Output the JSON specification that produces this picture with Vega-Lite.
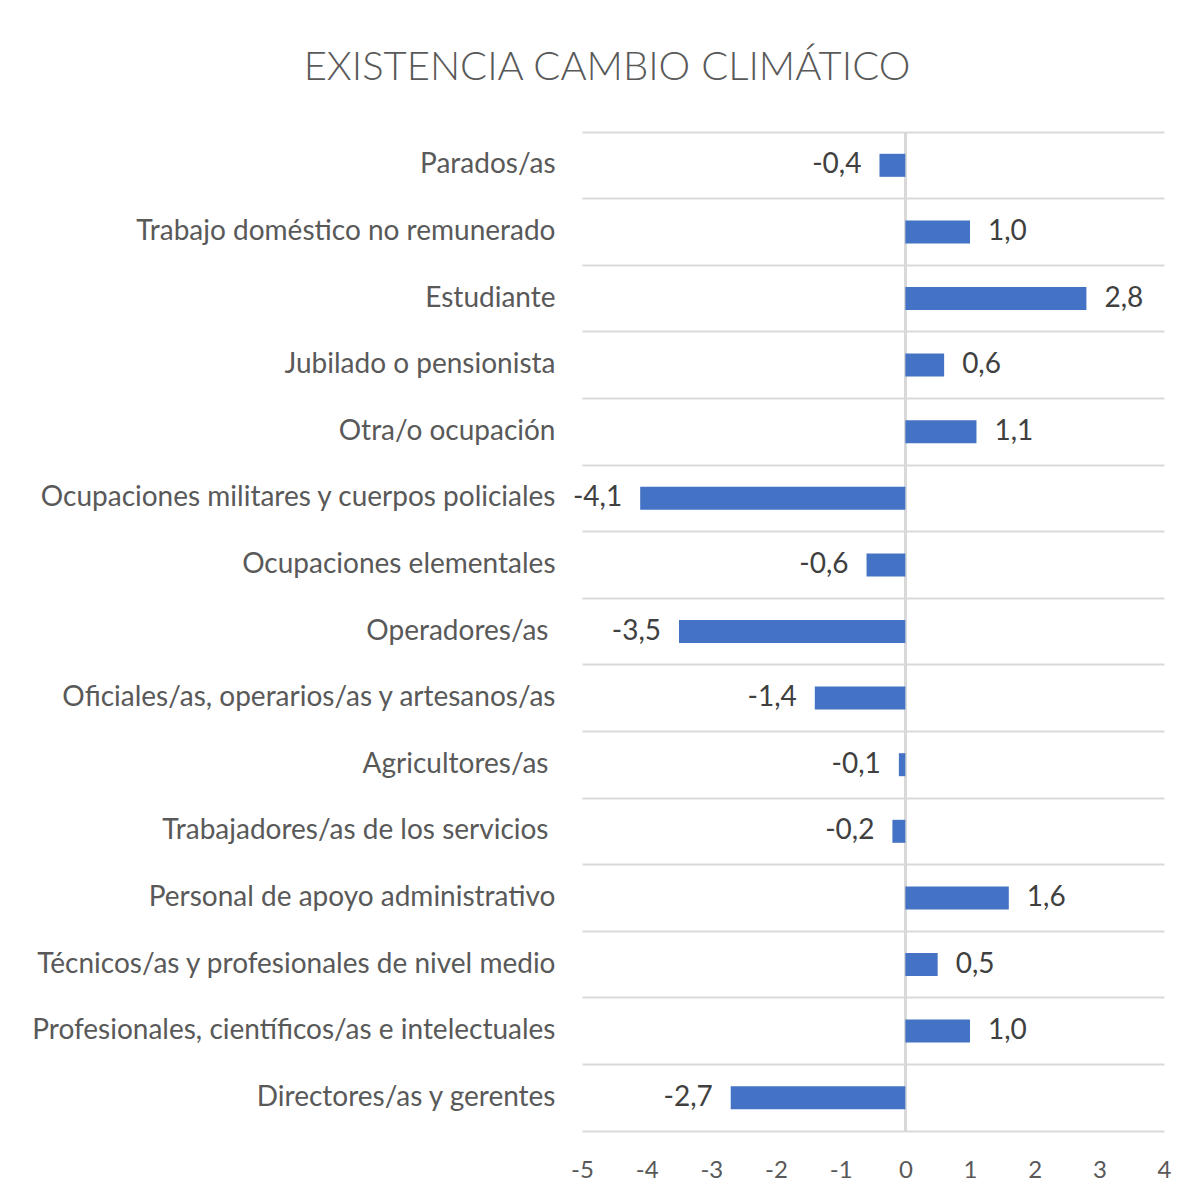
{
  "$schema": "https://vega.github.io/schema/vega-lite/v6.json",
  "autosize": "none",
  "width": 582,
  "height": 999,
  "padding": {"left": 582, "top": 132, "right": 39, "bottom": 72},
  "background": "white",
  "title": {
    "text": "EXISTENCIA  CAMBIO CLIMÁTICO",
    "anchor": "middle",
    "frame": "group",
    "dx": -266,
    "dy": 41,
    "baseline": "alphabetic",
    "offset": 52,
    "font": "Lato",
    "fontSize": 40,
    "fontWeight": 300,
    "color": "#595959"
  },
  "data": {
    "values": [
      {"cat": "Parados/as", "v": -0.4},
      {"cat": "Trabajo doméstico no remunerado", "v": 1.0},
      {"cat": "Estudiante", "v": 2.8},
      {"cat": "Jubilado o pensionista", "v": 0.6},
      {"cat": "Otra/o ocupación", "v": 1.1},
      {"cat": "Ocupaciones militares y cuerpos policiales", "v": -4.1},
      {"cat": "Ocupaciones elementales", "v": -0.6},
      {"cat": "Operadores/as", "v": -3.5},
      {"cat": "Oficiales/as, operarios/as y artesanos/as", "v": -1.4},
      {"cat": "Agricultores/as", "v": -0.1},
      {"cat": "Trabajadores/as de los servicios", "v": -0.2},
      {"cat": "Personal de apoyo administrativo", "v": 1.6},
      {"cat": "Técnicos/as y profesionales de nivel medio", "v": 0.5},
      {"cat": "Profesionales, científicos/as e intelectuales", "v": 1.0},
      {"cat": "Directores/as y gerentes", "v": -2.7}
    ]
  },
  "encoding": {
    "y": {
      "field": "cat",
      "type": "nominal",
      "sort": null,
      "scale": {"paddingInner": 0, "paddingOuter": 0},
      "axis": {
        "title": null,
        "domain": false,
        "ticks": false,
        "grid": true,
        "gridColor": "#d9d9d9",
        "gridWidth": 2,
        "bandPosition": 0,
        "labelPadding": {
          "condition": {"test": "indexof(['Operadores/as', 'Agricultores/as', 'Trabajadores/as de los servicios'], datum.value) >= 0", "value": 34},
          "value": 27
        },
        "labelLimit": 700,
        "labelFont": "Lato",
        "labelFontSize": 28,
        "labelColor": "#595959"
      }
    }
  },
  "layer": [
    {
      "mark": {"type": "rule", "color": "#d9d9d9", "strokeWidth": 2},
      "encoding": {"x": {"datum": 0, "type": "quantitative"}, "y": null}
    },
    {
      "mark": {"type": "bar", "color": "#4472C4", "size": 23},
      "encoding": {
        "x": {
          "field": "v",
          "type": "quantitative",
          "scale": {"domain": [-5, 4], "nice": false},
          "axis": {
            "title": null,
            "values": [-5, -4, -3, -2, -1, 0, 1, 2, 3, 4],
            "format": "d",
            "grid": false,
            "ticks": false,
            "domain": true,
            "domainColor": "#d9d9d9",
            "domainWidth": 2,
            "labelFlush": false,
            "labelPadding": 27,
            "labelFont": "Lato",
            "labelFontSize": 24,
            "labelColor": "#595959"
          }
        }
      }
    },
    {
      "transform": [{"filter": "datum.v >= 0"}],
      "mark": {"type": "text", "align": "left", "baseline": "middle", "dx": 18, "font": "Lato", "fontSize": 28, "color": "#404040"},
      "encoding": {
        "x": {"field": "v", "type": "quantitative"},
        "text": {"field": "v", "type": "quantitative", "format": ".1f"}
      }
    },
    {
      "transform": [{"filter": "datum.v < 0"}],
      "mark": {"type": "text", "align": "right", "baseline": "middle", "dx": -18, "font": "Lato", "fontSize": 28, "color": "#404040"},
      "encoding": {
        "x": {"field": "v", "type": "quantitative"},
        "text": {"field": "v", "type": "quantitative", "format": ".1f"}
      }
    }
  ],
  "config": {
    "view": {"stroke": null},
    "locale": {
      "number": {"decimal": ",", "thousands": ".", "grouping": [3], "currency": ["", " €"], "minus": "-"}
    }
  }
}
